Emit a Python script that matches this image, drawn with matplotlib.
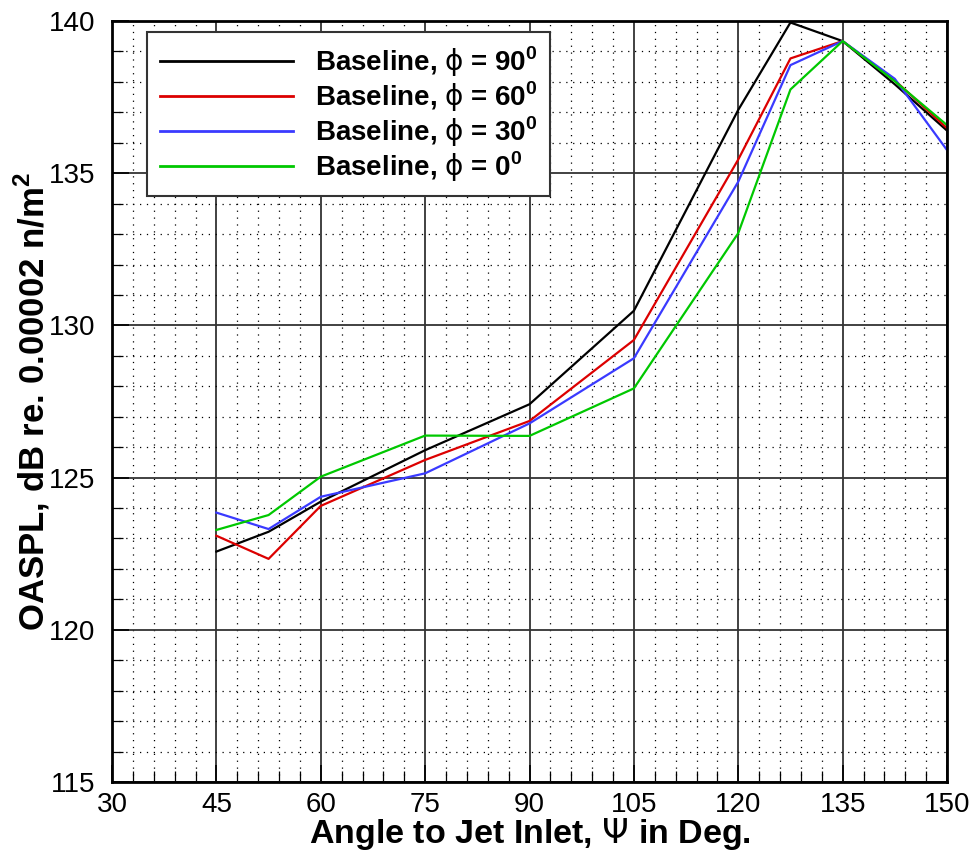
import matplotlib
matplotlib.use('Agg')
import matplotlib.pyplot as plt
from matplotlib.ticker import MultipleLocator

# data
angle = [45, 52.5, 60, 75, 90, 105, 120, 127.5, 135, 142.5, 150]
phi90 = [122.57, 123.22, 124.21, 125.90, 127.41, 130.48, 137.08, 139.95, 139.34, 137.92, 136.40]
phi60 = [123.09, 122.33, 124.07, 125.58, 126.86, 129.52, 135.45, 138.77, 139.34, 138.05, 136.48]
phi30 = [123.85, 123.31, 124.37, 125.14, 126.78, 128.92, 134.72, 138.55, 139.34, 138.10, 135.76]
phi0 = [123.28, 123.77, 125.03, 126.38, 126.37, 127.93, 133.03, 137.75, 139.34, 138.02, 136.58]
labels = [r'Baseline, $\mathrm{\phi}$ = 90$^\mathbf{0}$',
          r'Baseline, $\mathrm{\phi}$ = 60$^\mathbf{0}$',
          r'Baseline, $\mathrm{\phi}$ = 30$^\mathbf{0}$',
          r'Baseline, $\mathrm{\phi}$ = 0$^\mathbf{0}$']
colors = ['black', '#dc0000', '#3a3aff', '#00c800']

plt.rcParams['font.family'] = ['Liberation Sans', 'DejaVu Sans']
plt.rcParams['mathtext.fontset'] = 'custom'
plt.rcParams['mathtext.rm'] = 'DejaVu Sans'
plt.rcParams['mathtext.bf'] = 'Liberation Sans:bold'

fig = plt.figure(figsize=(9.74, 8.52), dpi=100)
ax = fig.add_axes([112/974, 70/852, 835/974, 761/852])

for y, c, lab in zip([phi90, phi60, phi30, phi0], colors, labels):
    ax.plot(angle, y, color=c, lw=1.6, label=lab)

ax.set_xlim(30, 150)
ax.set_ylim(115, 140)
ax.xaxis.set_major_locator(MultipleLocator(15))
ax.xaxis.set_minor_locator(MultipleLocator(3))
ax.yaxis.set_major_locator(MultipleLocator(5))
ax.yaxis.set_minor_locator(MultipleLocator(1))

ax.set_axisbelow(True)
ax.grid(which='major', color='#333333', lw=1.3)
ax.grid(which='minor', color='black', lw=0.9, linestyle=(0, (1, 4.5)))

ax.tick_params(which='both', direction='in', labelsize=20)
ax.tick_params(which='major', length=12, width=1.2)
ax.tick_params(which='minor', length=8, width=0.9)
ax.tick_params(axis='x', pad=7)
ax.tick_params(axis='y', pad=12)
for s in ax.spines.values():
    s.set_linewidth(2)

ax.set_xlabel(r'Angle to Jet Inlet, $\mathrm{\Psi}$ in Deg.', fontsize=24.5,
              fontweight='bold', va='center')
ax.xaxis.set_label_coords(0.5, -0.068)
ax.set_ylabel(r'OASPL, dB re. 0.00002 n/m$^\mathbf{2}$', fontsize=25,
              fontweight='bold', va='center')
ax.yaxis.set_label_coords(-0.096, 0.5)

leg = ax.legend(loc='upper left', bbox_to_anchor=(0.042, 0.986), borderaxespad=0,
                fancybox=False, framealpha=1, edgecolor='#333333',
                prop={'size': 20, 'weight': 'bold'}, handlelength=4.8,
                handletextpad=0.8, labelspacing=0.02, borderpad=0.45)
leg.get_frame().set_linewidth(1.5)
for line in leg.get_lines():
    line.set_linewidth(2)

plt.savefig('out.png', dpi=100)
